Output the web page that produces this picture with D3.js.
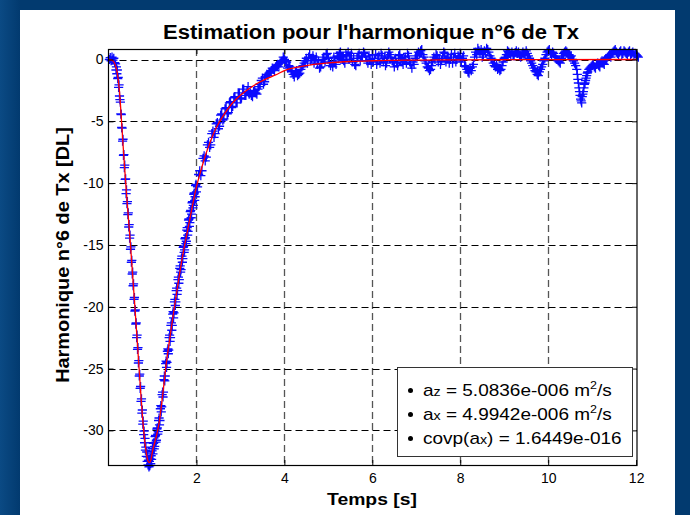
<!DOCTYPE html>
<html>
<head>
<meta charset="utf-8">
<script src="https://cdn.jsdelivr.net/npm/d3@7"></script>
<style>
  html, body { margin: 0; padding: 0; background: #023a6f; }
  svg { display: block; }
  text { font-family: "Liberation Sans", Arial, Helvetica, sans-serif; }
</style>
</head>
<body>
<svg id="fig" width="690" height="515"></svg>
<script>
// ---- Mesures : harmonique n°6 de Tx (grille principale) ----
const tempsMesure = [
  0.02,0.04,0.06,0.08,0.10,0.12,0.14,
  0.16,0.17,0.18,0.19,0.20,0.21,0.22,0.23,0.24,0.25,0.26,0.27,0.28,0.29,
  0.30,0.31,0.32,0.33,0.34,0.35,0.36,0.37,0.38,0.39,0.40,0.41,0.42,0.43,0.44,0.45,0.46,0.47,0.48,0.49,
  0.50,0.51,0.52,0.53,0.54,0.55,0.56,0.57,0.58,0.59,0.60,0.61,0.62,0.63,0.64,0.65,0.66,0.67,0.68,0.69,
  0.70,0.71,0.72,0.73,0.74,0.75,0.76,0.77,0.78,0.79,0.80,0.81,0.82,0.83,0.84,0.85,0.86,0.87,0.88,0.89,
  0.90,0.91,0.92,0.93,0.94,0.95,0.96,0.97,0.98,0.99,1.00,
  1.02,1.04,1.06,1.08,1.10,1.12,1.14,1.16,1.18,1.20,1.22,1.24,1.26,1.28,1.30,1.32,1.34,1.36,1.38,1.40,
  1.42,1.44,1.46,1.48,1.50,1.52,1.54,1.56,1.58,1.60,1.62,1.64,1.66,1.68,1.70,1.72,1.74,1.76,1.78,1.80,
  1.82,1.84,1.86,1.88,1.90,1.92,1.94,1.96,1.98,2.00,
  2.05,2.10,2.15,2.20,2.25,2.30,2.35,2.40,2.45,2.50,2.55,2.60,2.65,2.70,2.75,2.80,2.85,2.90,2.95,3.00,
  3.05,3.10,3.15,3.20,3.25,3.30,3.35,3.40,3.45,3.50,3.55,3.60,3.65,3.70,3.75,3.80,3.85,3.90,3.95,4.00,
  4.05,4.10,4.15,4.20,4.25,4.30,4.35,4.40,4.45,4.50,4.55,4.60,4.65,4.70,4.75,4.80,4.85,4.90,4.95,5.00,
  5.05,5.10,5.15,5.20,5.25,5.30,5.35,5.40,5.45,5.50,5.55,5.60,5.65,5.70,5.75,5.80,5.85,5.90,5.95,6.00,
  6.05,6.10,6.15,6.20,6.25,6.30,6.35,6.40,6.45,6.50,6.55,6.60,6.65,6.70,6.75,6.80,6.85,6.90,6.95,7.00,
  7.05,7.10,7.15,7.20,7.25,7.30,7.35,7.40,7.45,7.50,7.55,7.60,7.65,7.70,7.75,7.80,7.85,7.90,7.95,8.00,
  8.05,8.10,8.15,8.20,8.25,8.30,8.35,8.40,8.45,8.50,8.55,8.60,8.65,8.70,8.75,8.80,8.85,8.90,8.95,9.00,
  9.05,9.10,9.15,9.20,9.25,9.30,9.35,9.40,
  9.45,9.50,9.55,9.60,9.65,9.70,9.75,9.80,9.85,9.90,9.95,10.00,10.05,10.10,10.15,10.20,10.25,10.30,10.35,10.40,
  10.45,10.50,10.55,10.60,
  10.65,10.675,10.70,10.725,10.75,10.775,10.80,10.825,10.85,10.875,10.90,
  10.95,11.00,11.05,11.10,11.15,11.20,11.25,11.30,11.35,11.40,11.45,11.50,11.55,11.60,11.65,11.70,
  11.75,11.80,11.85,11.90,11.95,12.00,12.05
];
const harmoniqueMesure = [
  0.00,0.15,-0.10,0.20,-0.05,0.10,-0.25,
  -0.35,-0.85,-0.60,-1.15,-0.85,-1.55,-1.45,-2.25,-2.05,-2.95,-3.25,-3.45,-4.40,-4.45,
  -5.50,-5.55,-6.60,-6.45,-7.75,-7.70,-8.75,-8.55,-9.70,-9.65,-10.85,-10.55,-11.65,-11.50,-12.55,-12.40,-13.55,-13.35,-14.45,-14.20,
  -15.35,-15.15,-16.40,-16.25,-17.35,-17.20,-18.30,-18.15,-19.40,-19.25,-20.35,-20.25,-21.40,-21.30,-22.50,-22.30,-23.45,-23.30,-24.55,-24.35,
  -25.60,-25.45,-26.60,-26.45,-27.65,-27.45,-28.60,-28.35,-29.50,-29.25,-30.35,-30.05,-31.00,-30.65,-31.60,-31.35,-32.10,-31.75,-32.50,-32.15,
  -32.80,-32.40,-32.95,-32.50,-32.85,-32.30,-32.70,-32.05,-32.35,-31.65,-31.45,
  -31.05,-31.50,-30.50,-30.95,-29.90,-30.30,-29.20,-29.55,-28.25,-28.50,-27.10,-27.30,-25.90,-26.00,-24.60,-24.90,-23.60,-23.80,-22.50,-22.80,
  -21.50,-21.90,-20.60,-20.90,-19.60,-19.90,-18.70,-19.00,-17.80,-18.10,-16.90,-17.20,-16.10,-16.40,-15.20,-15.60,-14.50,-14.90,-13.80,-14.20,
  -13.00,-13.50,-12.30,-12.80,-11.60,-12.00,-10.90,-11.40,-10.20,-10.70,
  -9.30,-9.40,-8.00,-8.20,-6.90,-7.10,-6.00,-6.30,-5.20,-5.60,-4.50,-4.90,-4.00,-4.40,-3.50,-3.90,-3.10,-3.50,-2.70,-3.20,
  -2.40,-2.90,-2.60,-2.80,-2.90,-2.60,-2.70,-2.40,-2.00,-1.50,-1.80,-1.20,-1.10,-0.90,-0.80,-0.60,-0.40,-0.30,-0.10,0.00,
  -0.20,-0.50,-0.90,-1.20,-1.00,-1.30,-1.10,-0.60,-0.30,0.10,0.20,-0.10,0.30,0.00,-0.40,-0.70,-0.30,0.20,0.40,0.10,
  -0.50,-0.60,-0.20,0.30,0.50,0.20,-0.10,0.40,0.60,0.30,-0.20,-0.40,0.10,0.50,0.30,0.60,0.20,-0.30,0.00,0.40,
  0.10,-0.40,0.30,0.50,-0.20,-0.50,0.20,0.40,-0.10,-0.60,-0.30,0.30,0.10,-0.40,0.20,0.50,-0.20,-0.70,-0.40,0.30,
  0.60,0.70,0.40,-0.10,-0.60,-0.90,-0.50,0.20,0.40,-0.20,-0.40,0.30,0.50,0.10,-0.30,0.40,0.20,-0.20,0.30,0.50,
  0.10,-0.50,-0.80,-1.10,-0.90,-0.40,0.60,0.90,0.50,0.20,0.70,0.90,0.60,0.10,-0.30,-0.60,-0.80,-0.90,-0.50,0.10,
  0.40,0.60,0.30,0.35,0.55,0.50,0.30,0.40,
  0.40,0.70,0.30,-0.10,-0.50,-0.90,-1.20,-1.00,-0.60,-0.10,0.40,0.70,0.50,0.60,0.30,0.00,-0.20,0.10,0.50,0.70,
  0.40,0.20,0.00,-0.30,
  -0.80,-1.60,-2.30,-2.90,-3.35,-3.00,-2.60,-2.00,-1.70,-1.30,-1.00,
  -0.70,-0.50,-0.60,-0.40,-0.50,-0.20,-0.30,0.00,0.20,0.40,0.50,0.70,0.60,0.40,0.70,0.50,
  0.60,0.40,0.70,0.50,0.30,0.40,0.20
];

// ---- Mesures : échantillons intercalés ----
const tempsMesureInter = [
  1.01,1.03,1.05,1.07,1.09,1.11,1.13,1.15,1.17,1.19,1.21,1.23,1.25,1.27,1.29,1.31,1.33,1.35,1.37,1.39,
  1.41,1.43,1.45,1.47,1.49,1.51,1.53,1.55,1.57,1.59,1.61,1.63,1.65,1.67,1.69,1.71,1.73,1.75,1.77,1.79,
  1.81,1.83,1.85,1.87,1.89,1.91,1.93,1.95,1.97,1.99,
  2.025,2.075,2.125,2.175,2.225,2.275,2.325,2.375,2.425,2.475,2.525,2.575,2.625,2.675,2.725,2.775,2.825,2.875,2.925,2.975,
  3.025,3.075,3.125,3.175,3.225,3.275,3.325,3.375,3.425,3.475,3.525,3.575,3.625,3.675,3.725,3.775,3.825,3.875,3.925,3.975,
  4.025,4.075,4.125,4.175,4.225,4.275,4.325,4.375,4.425,4.475,4.525,4.575,4.625,4.675,4.725,4.775,4.825,4.875,4.925,4.975,
  5.025,5.075,5.125,5.175,5.225,5.275,5.325,5.375,5.425,5.475,5.525,5.575,5.625,5.675,5.725,5.775,5.825,5.875,5.925,5.975,
  6.025,6.075,6.125,6.175,6.225,6.275,6.325,6.375,6.425,6.475,6.525,6.575,6.625,6.675,6.725,6.775,6.825,6.875,6.925,6.975,
  7.025,7.075,7.125,7.175,7.225,7.275,7.325,7.375,7.425,7.475,7.525,7.575,7.625,7.675,7.725,7.775,7.825,7.875,7.925,7.975,
  8.025,8.075,8.125,8.175,8.225,8.275,8.325,8.375,8.425,8.475,8.525,8.575,8.625,8.675,8.725,8.775,8.825,8.875,8.925,8.975,
  9.025,9.075,9.125,9.175,9.225,9.275,9.325,9.375,
  9.425,9.475,9.525,9.575,9.625,9.675,9.725,9.775,9.825,9.875,9.925,9.975,10.025,10.075,10.125,10.175,10.225,10.275,10.325,10.375,
  10.425,10.475,10.525,10.575,10.625,
  10.6625,10.6875,10.7125,10.7375,10.7625,10.7875,10.8125,10.8375,10.8625,10.8875,
  10.925,10.975,11.025,11.075,11.125,11.175,11.225,11.275,11.325,11.375,11.425,11.475,11.525,11.575,11.625,11.675,
  11.725,11.775,11.825,11.875,11.925,11.975,12.025
];
const harmoniqueMesureInter = [
  -31.90,-31.00,-31.30,-30.40,-30.80,-29.80,-30.10,-29.00,-29.20,-28.00,-28.10,-26.90,-26.90,-25.60,-25.60,-24.40,-24.50,-23.40,-23.50,-22.30,
  -22.50,-21.30,-21.50,-20.40,-20.50,-19.40,-19.60,-18.50,-18.70,-17.60,-17.80,-16.70,-17.00,-15.90,-16.10,-15.10,-15.40,-14.40,-14.70,-13.60,
  -13.90,-12.90,-13.20,-12.20,-12.50,-11.50,-11.80,-10.80,-11.10,-10.10,
  -10.30,-9.00,-9.00,-7.80,-7.90,-6.70,-6.90,-5.80,-6.00,-5.10,-5.40,-4.40,-4.80,-3.90,-4.30,-3.40,-3.80,-3.00,-3.50,-2.70,
  -3.10,-2.40,-2.90,-2.20,-2.70,-3.00,-2.50,-2.80,-2.20,-1.70,-2.00,-1.40,-1.30,-1.00,-0.70,-0.90,-0.50,-0.60,-0.20,0.20,
  -0.10,-0.70,-0.60,-1.00,-1.40,-0.90,-1.20,-0.80,-0.50,-0.10,-0.30,0.40,0.10,-0.30,0.20,-0.10,-0.60,0.00,-0.20,0.50,
  -0.20,-0.30,0.20,-0.40,0.10,0.60,0.00,-0.30,0.30,0.00,0.50,0.10,-0.50,0.30,-0.10,0.20,0.50,-0.10,0.30,-0.40,
  -0.20,0.40,-0.10,-0.30,0.30,0.10,-0.30,0.60,0.20,-0.20,0.10,-0.50,0.40,-0.20,0.00,-0.30,0.30,-0.40,-0.20,0.10,
  0.30,0.50,0.80,0.20,-0.30,-0.70,-0.80,-0.20,0.00,0.30,0.10,-0.10,0.60,-0.20,0.20,0.00,-0.30,0.50,0.00,0.20,
  -0.20,0.30,-0.60,-1.00,-0.70,-0.60,0.20,0.40,0.70,0.80,0.40,0.60,0.80,0.30,0.00,-0.50,-0.40,-0.70,-0.80,-0.20,
  0.20,0.70,0.50,0.60,0.30,0.70,0.60,0.20,
  0.60,0.50,0.50,0.10,-0.30,-0.70,-1.00,-1.30,-0.80,-0.40,0.10,0.60,0.80,0.40,0.50,0.20,-0.10,-0.30,0.30,0.60,
  0.60,0.40,0.30,-0.10,-0.50,
  -1.20,-1.90,-2.60,-3.20,-3.50,-2.80,-2.30,-1.90,-1.50,-1.10,
  -0.80,-0.60,-0.40,-0.70,-0.30,-0.60,-0.10,-0.40,0.10,0.30,0.20,0.60,0.80,0.50,0.60,0.40,
  0.70,0.50,0.60,0.40,0.60,0.50,0.30
];

// ---- Modèle ajusté ----
const tempsFit = [
  0.00,0.10,0.15,0.20,0.25,0.30,0.35,0.40,0.45,0.50,0.55,0.60,0.65,0.70,0.75,0.80,0.85,0.90,0.93,0.97,
  1.00,1.05,1.10,1.15,1.20,1.25,1.30,1.40,1.50,1.60,1.70,1.80,1.90,2.00,2.10,2.20,2.30,2.40,2.50,2.60,
  2.80,3.00,3.20,3.40,3.60,3.80,4.00,4.50,5.00,5.50,6.00,7.00,8.00,10.00,12.00
];
const harmoniqueFit = [
  0.00,-0.10,-0.40,-1.10,-2.60,-5.20,-7.90,-10.40,-12.70,-15.00,-17.50,-20.00,-22.60,-25.20,-27.80,-30.00,-31.60,-32.50,-32.60,-32.30,
  -31.70,-31.00,-30.30,-29.40,-28.10,-26.60,-25.00,-22.40,-20.00,-17.70,-15.60,-13.80,-12.00,-10.30,-9.00,-7.80,-6.80,-5.90,-5.20,-4.60,
  -3.60,-2.90,-2.35,-1.90,-1.55,-1.25,-0.90,-0.50,-0.28,-0.16,-0.10,-0.05,-0.03,-0.01,0.00
];

// ---- Axes ----
const xTicks = [2, 4, 6, 8, 10, 12];
const yTicks = [0, -5, -10, -15, -20, -25, -30];
const xDomaine = [0, 12.02];
const yDomaine = [-32.8, 0.85];

// ---- Textes ----
const titre = "Estimation pour l'harmonique n°6 de Tx";
const labelX = "Temps [s]";
const labelY = "Harmonique n°6 de Tx [DL]";
const legendeIndices = ["z", "x"];
const legendeValeurs = ["5.0836e-006", "4.9942e-006"];
const covariance = "1.6449e-016";

const W = 690, H = 515;
const svg = d3.select("#fig");
const police = "'Liberation Sans', Arial, Helvetica, sans-serif";

// fond de la figure
const defs = svg.append("defs");
const grad = defs.append("linearGradient").attr("id", "bord")
  .attr("x1", 0).attr("x2", 1).attr("y1", 0).attr("y2", 0);
grad.append("stop").attr("offset", "0%").attr("stop-color", "#0b4a84");
grad.append("stop").attr("offset", "100%").attr("stop-color", "#023a6f");
svg.append("rect").attr("width", W).attr("height", H).attr("fill", "#023a6f");
svg.append("rect").attr("width", 20).attr("height", H).attr("fill", "url(#bord)");
svg.append("rect").attr("x", 20).attr("y", 10).attr("width", 655).attr("height", 505).attr("fill", "#fff");

const zone = { left: 108.5, right: 637, top: 49, bottom: 465 };
const x = d3.scaleLinear().domain(xDomaine).range([zone.left, zone.right]);
const y = d3.scaleLinear().domain(yDomaine).range([zone.bottom, zone.top]);

// quadrillage pointillé
const grille = svg.append("g").attr("fill", "none");
grille.selectAll("line.gx").data(xTicks.filter(d => d < 12)).join("line")
  .attr("class", "gx")
  .attr("x1", d => Math.round(x(d)) + 0.5).attr("x2", d => Math.round(x(d)) + 0.5)
  .attr("y1", zone.top).attr("y2", zone.bottom)
  .attr("stroke", "#555").attr("stroke-width", 1.3).attr("stroke-dasharray", "7,4");
grille.selectAll("line.gy").data(yTicks).join("line")
  .attr("class", "gy")
  .attr("x1", zone.left).attr("x2", zone.right)
  .attr("y1", d => Math.round(y(d)) + 0.5).attr("y2", d => Math.round(y(d)) + 0.5)
  .attr("stroke", "#000").attr("stroke-width", 1).attr("stroke-dasharray", "7,4");

// mesures : marqueurs '+'
const demi = 4.6;
const mesures = tempsMesure.map((t, i) => [t, harmoniqueMesure[i]])
  .concat(tempsMesureInter.map((t, i) => [t, harmoniqueMesureInter[i]]));
const croix = mesures.map(d => {
  const px = x(d[0]), py = y(d[1]);
  return `M${px - demi},${py}h${2 * demi}M${px},${py - demi}v${2 * demi}`;
}).join("");
svg.append("path").attr("d", croix)
  .attr("stroke", "#0a0aff").attr("stroke-width", 1.3).attr("fill", "none");

// modèle ajusté
const ligne = d3.line().x(d => x(d[0])).y(d => y(d[1])).curve(d3.curveMonotoneX);
svg.append("path")
  .datum(tempsFit.map((t, i) => [t, harmoniqueFit[i]]))
  .attr("d", ligne).attr("fill", "none").attr("stroke", "#ff0000").attr("stroke-width", 1.3);

// axes et cadre
const fmt = d => String(d);
const gx = svg.append("g").attr("transform", `translate(0,${zone.bottom})`)
  .call(d3.axisBottom(x).tickValues(xTicks).tickSizeInner(-5).tickSizeOuter(0).tickPadding(8).tickFormat(fmt));
const gxt = svg.append("g").attr("transform", `translate(0,${zone.top})`)
  .call(d3.axisTop(x).tickValues(xTicks).tickSizeInner(-5).tickSizeOuter(0).tickFormat(""));
const gy = svg.append("g").attr("transform", `translate(${zone.left},0)`)
  .call(d3.axisLeft(y).tickValues(yTicks).tickSizeInner(-5).tickSizeOuter(0).tickPadding(5).tickFormat(fmt));
const gyr = svg.append("g").attr("transform", `translate(${zone.right},0)`)
  .call(d3.axisRight(y).tickValues(yTicks).tickSizeInner(-5).tickSizeOuter(0).tickFormat(""));
[gx, gxt, gy, gyr].forEach(g => {
  g.select(".domain").remove();
  g.attr("font-size", 14).attr("font-family", police);
  g.selectAll("line").attr("stroke", "#000");
  g.selectAll("text").attr("fill", "#000");
});
svg.append("rect")
  .attr("x", zone.left).attr("y", zone.top + 0.5)
  .attr("width", zone.right - zone.left).attr("height", zone.bottom - zone.top)
  .attr("fill", "none").attr("stroke", "#000").attr("stroke-width", 1.2);

// étirement horizontal d'un texte autour d'une abscisse d'ancrage
function ajusterLargeur(sel, largeur, ancreX) {
  const w = sel.node().getBBox().width;
  const k = largeur / w;
  const base = sel.attr("transform") || "";
  sel.attr("transform", `${base} translate(${ancreX},0) scale(${k},1) translate(${-ancreX},0)`);
}

// titre
const tTitre = svg.append("text").attr("x", 371).attr("y", 39)
  .attr("text-anchor", "middle").attr("font-weight", "bold").attr("font-size", 20)
  .attr("fill", "#000").text(titre);
ajusterLargeur(tTitre, 416, 371);

// libellés des axes
const tX = svg.append("text").attr("x", 372).attr("y", 505)
  .attr("text-anchor", "middle").attr("font-weight", "bold").attr("font-size", 17)
  .attr("fill", "#000").text(labelX);
ajusterLargeur(tX, 90, 372);

const gLabelY = svg.append("g").attr("transform", "translate(69,255) rotate(-90)");
const tY = gLabelY.append("text").attr("x", 0).attr("y", 0)
  .attr("text-anchor", "middle").attr("font-weight", "bold").attr("font-size", 18)
  .attr("fill", "#000").text(labelY);
ajusterLargeur(tY, 256, 0);

// légende des paramètres estimés
const leg = svg.append("g");
leg.append("rect").attr("x", 397.5).attr("y", 367.5).attr("width", 235).attr("height", 89)
  .attr("fill", "#fff").attr("stroke", "#333").attr("stroke-width", 1);

const lignesLeg = [
  { base: 396, largeur: 189, type: "a", i: 0 },
  { base: 420, largeur: 189, type: "a", i: 1 },
  { base: 444, largeur: 199, type: "cov" }
];
lignesLeg.forEach(l => {
  leg.append("circle").attr("cx", 410.5).attr("cy", l.base - 5.5).attr("r", 2.5).attr("fill", "#000");
  const t = leg.append("text").attr("x", 423).attr("y", l.base)
    .attr("font-size", 16).attr("fill", "#000");
  if (l.type === "a") {
    t.append("tspan").text("a");
    t.append("tspan").attr("font-size", 12).text(legendeIndices[l.i]);
    t.append("tspan").text(" = " + legendeValeurs[l.i] + " m");
    t.append("tspan").attr("font-size", 10.5).attr("dy", -6.5).text("2");
    t.append("tspan").attr("dy", 6.5).text("/s");
  } else {
    t.append("tspan").text("covp(a");
    t.append("tspan").attr("font-size", 12).text("x");
    t.append("tspan").text(") = " + covariance);
  }
  ajusterLargeur(t, l.largeur, 423);
});
</script>
</body>
</html>
